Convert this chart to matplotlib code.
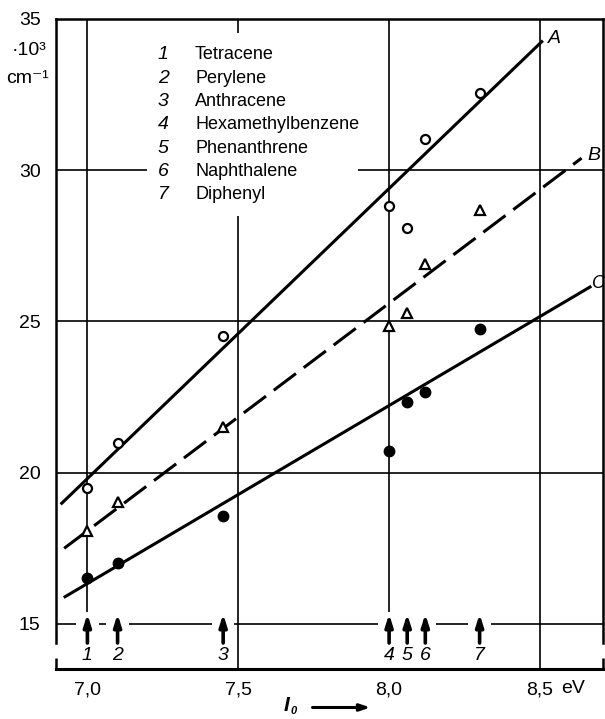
import numpy as np
import matplotlib
matplotlib.use('Agg')
import matplotlib.pyplot as plt

plt.rcParams['font.family'] = ['Liberation Sans Narrow', 'Liberation Sans', 'DejaVu Sans']
plt.rcParams['lines.scale_dashes'] = False

# ionization potentials (eV) and compounds
ip = [7.0, 7.1, 7.45, 8.0, 8.06, 8.12, 8.3]
numbers = ['1', '2', '3', '4', '5', '6', '7']
compounds = ['Tetracene', 'Perylene', 'Anthracene', 'Hexamethylbenzene',
             'Phenanthrene', 'Naphthalene', 'Diphenyl']

# band positions, 10^3 cm^-1
nu_A = [19.49, 20.99, 24.53, 28.82, 28.08, 31.03, 32.54]   # open circles
nu_B = [18.08, 19.04, 21.52, 24.85, 25.27, 26.90, 28.69]   # triangles
nu_C = [16.51, 17.01, 18.57, 20.73, 22.33, 22.66, 24.74]   # filled circles

# fitted straight lines (end points)
line_A_x = [6.915, 8.506]
line_A_y = [18.99, 34.25]
line_B_x = [6.923, 8.638]
line_B_y = [17.50, 30.40]
line_C_x = [6.926, 8.666]
line_C_y = [15.90, 26.14]

xticks = [7.0, 7.5, 8.0, 8.5]
xticklabels = ['7,0', '7,5', '8,0', '8,5']
yticks = [15, 20, 25, 30, 35]

fig = plt.figure(figsize=(6.05, 7.19), dpi=100)
ax = fig.add_axes([0.0926, 0.0691, 0.9046, 0.9045])
x0, x1 = 6.896, 8.71
y0, y1 = 13.5, 35.0
ax.set_xlim(x0, x1)
ax.set_ylim(y0, y1)

glw = 1.2
# horizontal grid
ax.hlines([20, 25], x0, x1, color='k', lw=glw)
ax.hlines(30, x0, 7.198, color='k', lw=glw)
ax.hlines(30, 7.897, x1, color='k', lw=glw)
# the 15 line is broken around the arrows
gap = 0.037
edges = [x0]
for x in ip:
    edges += [x - gap, x + gap]
edges.append(x1)
for a, b in zip(edges[::2], edges[1::2]):
    if b > a:
        ax.hlines(15, a, b, color='k', lw=glw)

# vertical grid
ax.vlines([7.0, 8.0], 15.4, y1, color='k', lw=glw)
ax.vlines(7.5, 34.55, y1, color='k', lw=glw)
ax.vlines(7.5, y0, 28.48, color='k', lw=glw)
ax.vlines(8.5, y0, y1, color='k', lw=glw)

# fitted lines
lw = 2.2
ax.plot(line_A_x, line_A_y, color='k', lw=lw)
ax.plot(line_B_x, line_B_y, color='k', lw=lw, dashes=(20, 7))
ax.plot(line_C_x, line_C_y, color='k', lw=lw)
ax.text(line_A_x[1] + 0.02, line_A_y[1] + 0.1, 'A', style='italic', fontsize=14, va='center')
ax.text(line_B_x[1] + 0.018, line_B_y[1] + 0.1, 'B', style='italic', fontsize=14, va='center')
ax.text(line_C_x[1] + 0.008, line_C_y[1] + 0.1, 'C', style='italic', fontsize=13, va='center')

# data points
ax.plot(ip, nu_A, 'o', ms=6.5, mfc='white', mec='k', mew=1.6, zorder=5)
ax.plot(ip, nu_B, '^', ms=7.5, mfc='white', mec='k', mew=1.6, zorder=5)
ax.plot(ip, nu_C, 'o', ms=7.5, mfc='k', mec='k', zorder=5)

# arrows marking the ionization potentials
for x, n in zip(ip, numbers):
    ax.annotate('', xy=(x, 15.33), xytext=(x, 14.37),
                arrowprops=dict(arrowstyle='-|>,head_length=0.7,head_width=0.22',
                                lw=2.6, color='k', shrinkA=0, shrinkB=0))
    ax.text(x, 13.97, n, style='italic', fontsize=14, ha='center', va='center')

# legend list
for i, (n, c) in enumerate(zip(numbers, compounds)):
    y = 33.81 - i * 0.771
    ax.text(7.251, y, n, style='italic', fontsize=14, ha='center', va='center')
    ax.text(7.357, y, c, fontsize=13, ha='left', va='center')

# frame
for s in ['left', 'right']:
    ax.spines[s].set_bounds(14.37, y1)
    ax.spines[s].set_linewidth(1.8)
ax.spines['top'].set_linewidth(1.8)
ax.spines['bottom'].set_linewidth(2.2)
ax.vlines([x0, x1], y0, 13.87, color='k', lw=1.8, clip_on=False)

ax.set_xticks(xticks)
ax.set_xticklabels(xticklabels)
ax.set_yticks(yticks)
ax.tick_params(length=0, labelsize=14)
ax.tick_params(axis='x', pad=9)
ax.tick_params(axis='y', pad=11)
ax.text(8.61, 12.88, 'eV', fontsize=14, ha='center', va='center', clip_on=False)

# axis titles
fig.text(0.048, 0.93, '·10³', fontsize=14, ha='center', va='center')
fig.text(0.045, 0.891, 'cm⁻¹', fontsize=14, ha='center', va='center')
fig.text(0.474, 0.019, 'I', fontsize=15, style='italic', weight='bold', ha='center', va='center')
fig.text(0.486, 0.011, '0', fontsize=8, style='italic', weight='bold', ha='center', va='center')
fig.patches.append(matplotlib.patches.FancyArrowPatch(
    (0.512, 0.016), (0.617, 0.016), transform=fig.transFigure,
    arrowstyle='-|>,head_length=0.6,head_width=0.2', lw=2.2, color='k',
    mutation_scale=10))

fig.savefig('out.png', dpi=100)
